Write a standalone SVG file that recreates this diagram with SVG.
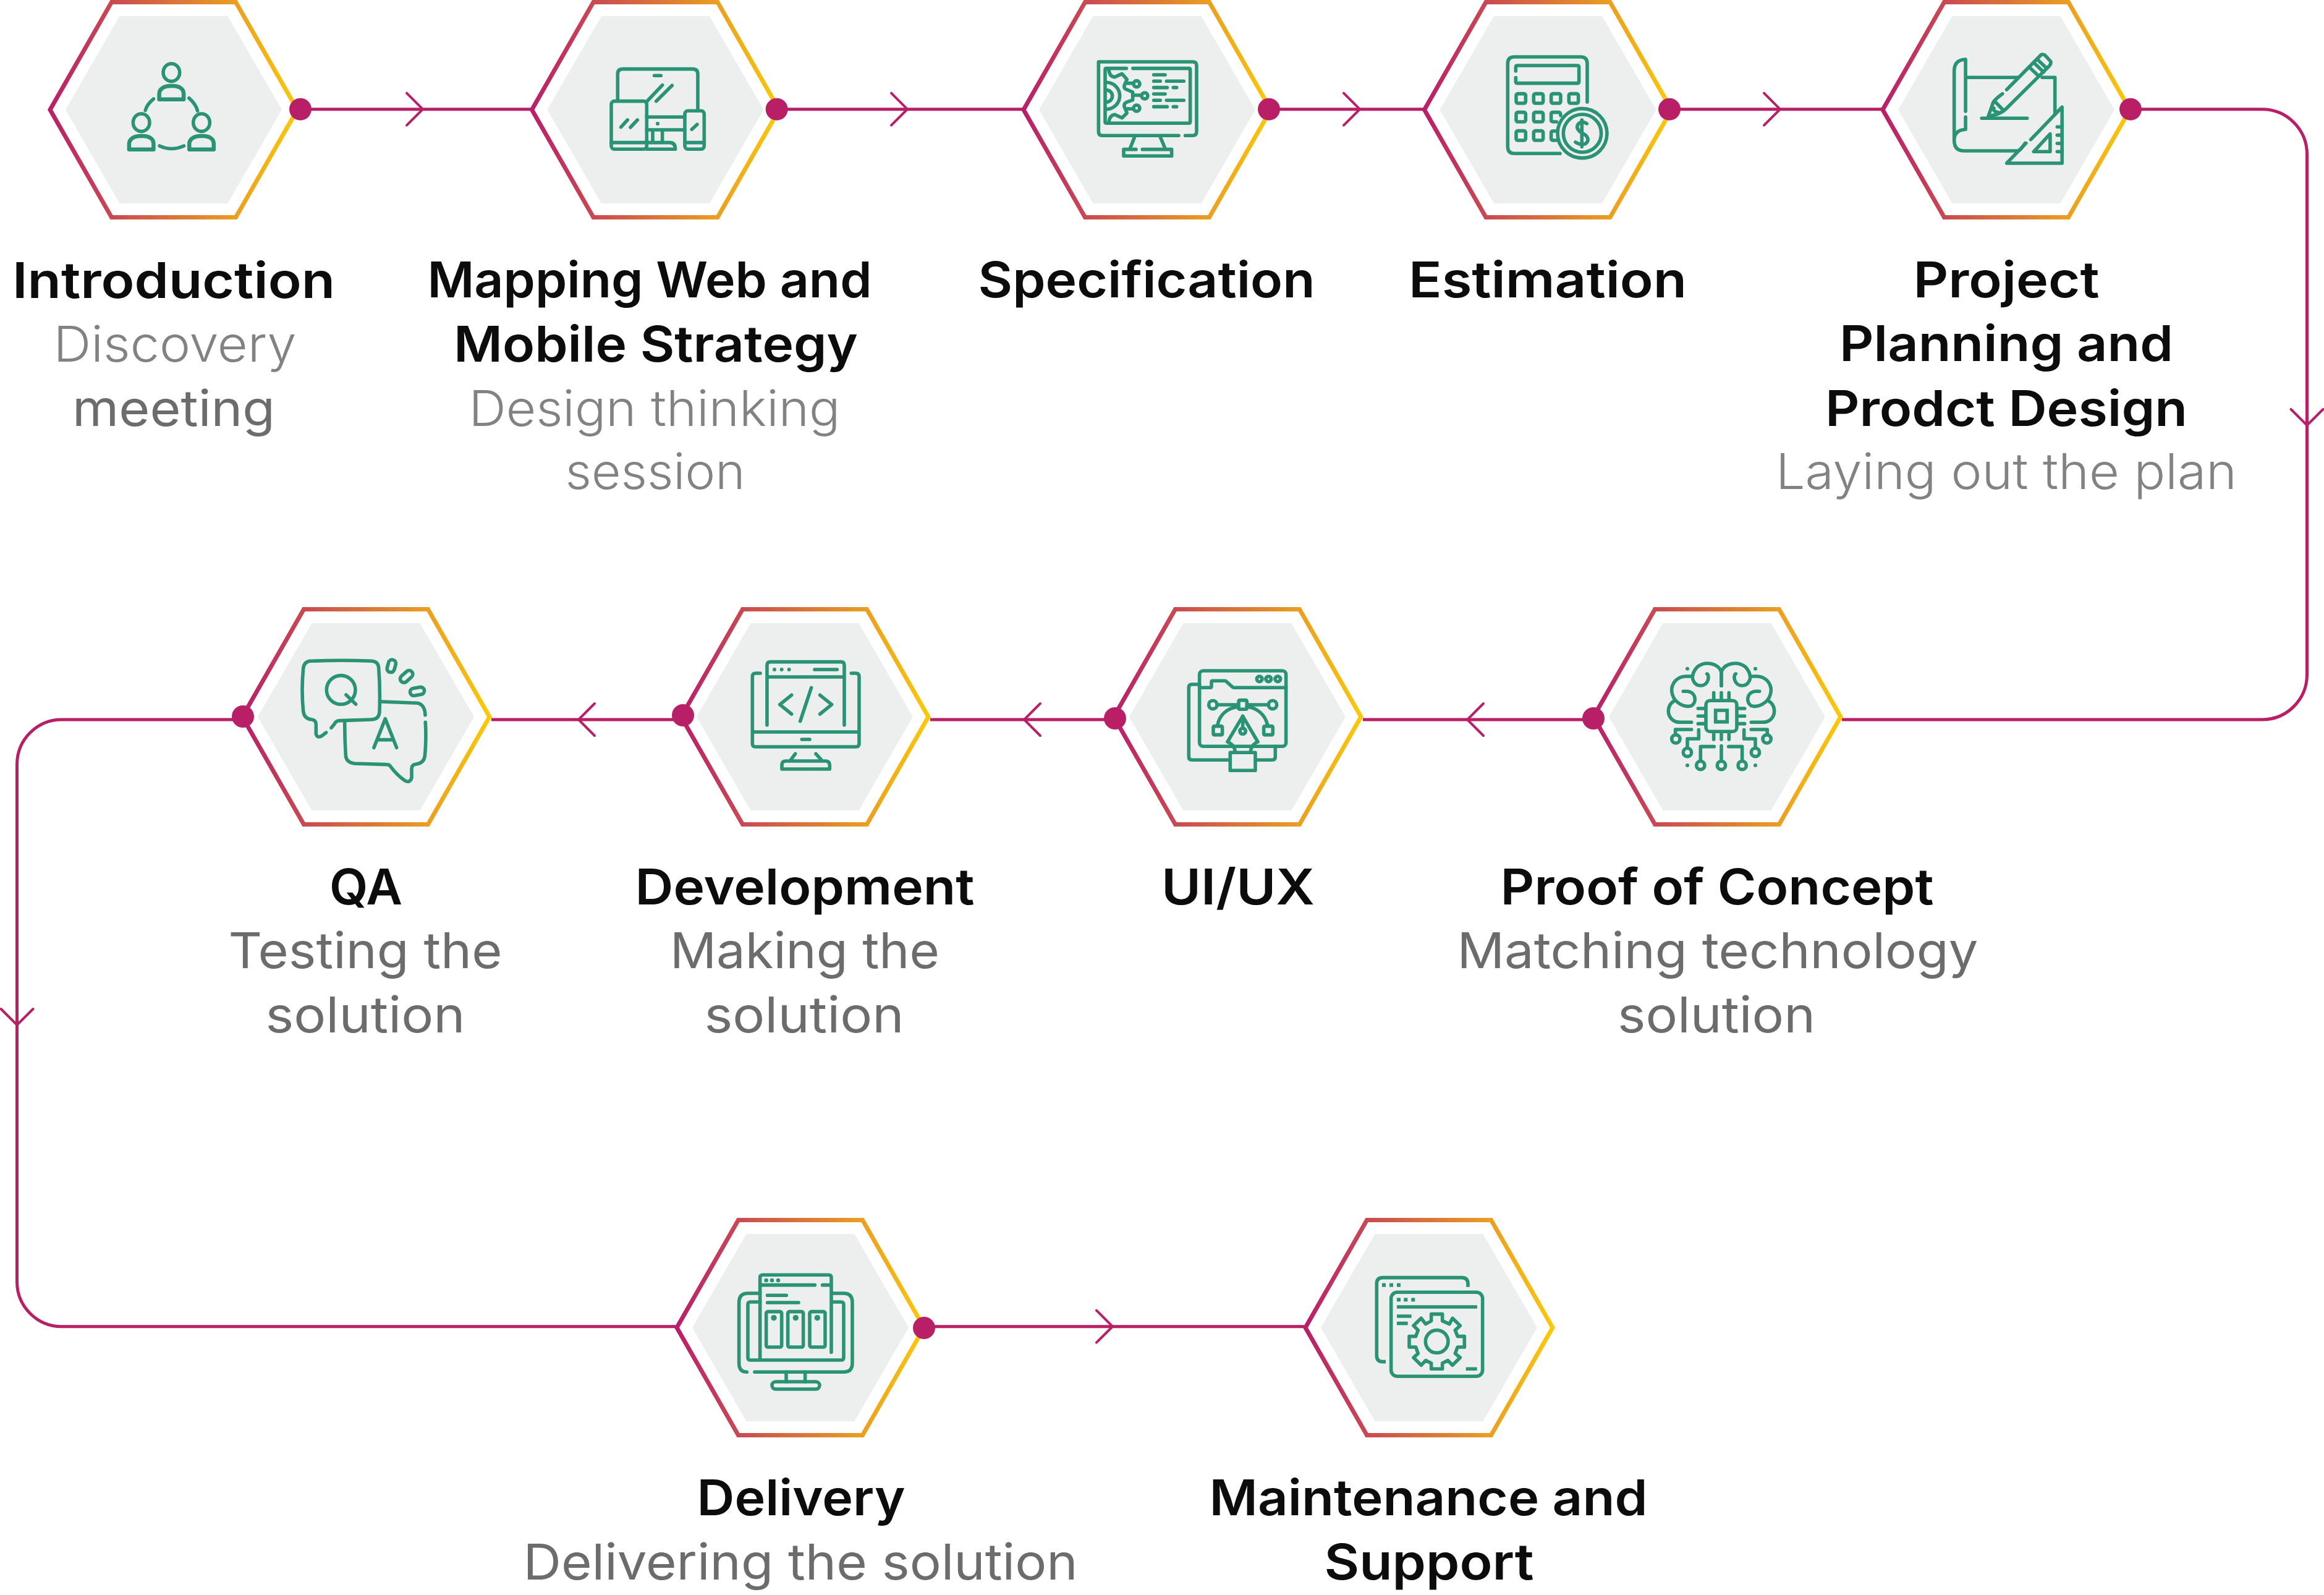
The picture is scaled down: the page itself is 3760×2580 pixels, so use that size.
<svg xmlns="http://www.w3.org/2000/svg" xmlns:xlink="http://www.w3.org/1999/xlink" width="3760" height="2580" viewBox="0 0 3760 2580">
<style>
.bg{fill:#fff}
.hexo{fill:#fff;stroke:url(#hg);stroke-width:7}
.hexi{fill:#ecefee}
.dot{fill:#b81f66}
.cn{fill:none;stroke:#b81f66;stroke-width:5}
.ch{fill:none;stroke:#b81f66;stroke-width:4;stroke-linecap:round}
.ic *{fill:none;stroke:#2a9375;stroke-width:5.6;stroke-linecap:round;stroke-linejoin:round;vector-effect:non-scaling-stroke}
.ic .f{fill:#2a9375;stroke:none}
.ic .sq{stroke-linecap:butt;stroke-linejoin:miter}
.bd{fill:none;stroke:#2a9375;stroke-width:6.5;stroke-linejoin:round;vector-effect:non-scaling-stroke}
text{font-family:"Inter","Noto Sans","Liberation Sans",sans-serif;font-size:80px;text-anchor:middle}
.t{font-weight:600;fill:#0c0c0c}
.s{font-weight:400;fill:#6c6c6c}
.l{font-weight:300;fill:#828282}
</style>
<defs>
<linearGradient id="hg" gradientUnits="objectBoundingBox" x1="0" y1="0" x2="1" y2="0">
<stop offset="0" stop-color="#b81f6a"/><stop offset="1" stop-color="#fbc90a"/>
</linearGradient>
<g id="hex">
<polygon class="hexo" points="-200,0 -100.5,-174 100.5,-174 200,0 100.5,174 -100.5,174"/>
<polygon class="hexi" points="-175,0 -87.5,-151.5 87.5,-151.5 175,0 87.5,151.5 -87.5,151.5"/>
</g>
<path id="chev" class="ch" d="M-26,-26 L0,0 L-26,26"/>
<path id="p1" class="bd" d="M561,482 V455 C561,430 580,417 600,417 H610 C630,417 647,430 647,455 V482 Z"/>
</defs>
<rect class="bg" width="3760" height="2580"/>
<g id="connectors">
<path class="cn" d="M486,176.7 H860"/>
<path class="cn" d="M1257,176.7 H1656"/>
<path class="cn" d="M2053,176.7 H2303"/>
<path class="cn" d="M2701,176.7 H3045"/>
<path class="cn" d="M3447,176.7 H3660 A72.5,73 0 0 1 3732.5,250 V1091 A72.5,73 0 0 1 3660,1164 H2980"/>
<path class="cn" d="M2578,1164 H2205"/>
<path class="cn" d="M1804,1164 H1505"/>
<path class="cn" d="M1105,1164 H795"/>
<path class="cn" d="M393,1164 H100 A72.5,72.5 0 0 0 27.5,1236 V2073 A72.5,72.5 0 0 0 100,2145.7 H1093"/>
<path class="cn" d="M1495,2145.7 H2110"/>
<use href="#chev" transform="translate(684,176.7)"/>
<use href="#chev" transform="translate(1468,176.7)"/>
<use href="#chev" transform="translate(2200,176.7)"/>
<use href="#chev" transform="translate(2880,176.7)"/>
<use href="#chev" transform="translate(3732.5,688) rotate(90)"/>
<use href="#chev" transform="translate(2374,1164) rotate(180)"/>
<use href="#chev" transform="translate(1657,1164) rotate(180)"/>
<use href="#chev" transform="translate(936,1164) rotate(180)"/>
<use href="#chev" transform="translate(27.5,1658) rotate(90)"/>
<use href="#chev" transform="translate(1800,2145.7)"/>
</g>

<g id="node-introduction">
<use href="#hex" transform="translate(281,177.5)"/>
<g class="ic" transform="scale(0.4592,0.3333)">
<ellipse cx="604" cy="352" rx="29" ry="43"/><use href="#p1"/>
<ellipse cx="498" cy="595" rx="29" ry="43"/><use href="#p1" transform="translate(-106,243)"/>
<ellipse cx="710" cy="595" rx="29" ry="43"/><use href="#p1" transform="translate(106,243)"/>
<path d="M541,480 Q518,505 512,536 M666,476 Q690,505 696,538 M562,708 Q604,735 648,708"/>
</g>
<circle class="dot" cx="486" cy="176.7" r="18"/>
<text class="t" x="281" y="482" textLength="522" lengthAdjust="spacingAndGlyphs">Introduction</text>
<text class="l" x="283" y="585" textLength="393" lengthAdjust="spacingAndGlyphs">Discovery</text>
<text class="s" x="281" y="689" textLength="328" lengthAdjust="spacingAndGlyphs">meeting</text>
</g>

<g id="node-mapping">
<use href="#hex" transform="translate(1060.5,177.5)"/>
<g class="ic" transform="translate(840,0) scale(0.3333)">
<path d="M478,483 V360 Q478,335 503,335 H842 Q867,335 867,360 V530 M656,367 H688 M620,492 L695,413 M665,491 L742,415"/>
<rect x="447" y="491" width="172" height="233" rx="15"/>
<path d="M447,692 H619 M494,617 L526,582 M540,618 L574,582 M619,568 H803 M619,630 H803 M648,630 V692 M695,630 V692 M619,692 H730 Q758,692 758,724 H619"/>
<circle class="f" cx="672" cy="600" r="9"/>
<rect x="804" y="538" width="94" height="186" rx="15"/>
<path d="M804,692 H898 M838,628 L864,604"/>
</g>
<circle class="dot" cx="1256.7" cy="176.7" r="18"/>
<text class="t" x="1051" y="481" textLength="719" lengthAdjust="spacingAndGlyphs">Mapping Web and</text>
<text class="t" x="1061" y="585" textLength="654" lengthAdjust="spacingAndGlyphs">Mobile Strategy</text>
<text class="l" x="1059" y="689" textLength="601" lengthAdjust="spacingAndGlyphs">Design thinking</text>
<text class="l" x="1060" y="791" textLength="291" lengthAdjust="spacingAndGlyphs">session</text>
</g>

<g id="node-specification">
<use href="#hex" transform="translate(1856,177.5)"/>
<g class="ic" transform="translate(1640,0) scale(0.3333)">
<path d="M801,658 H432 Q412,658 412,638 V300 H870 Q888,300 888,318 V638 Q888,658 868,658 H833"/>
<path d="M547,332 H450 Q444,332 444,340 V592 Q444,598 450,598 H850 Q857,598 857,592 V338 Q857,332 850,332 H579"/>
<path d="M450,400 A65,65 0 0 1 450,530 M450,437 A28,28 0 0 1 450,495"/>
<path d="M462,340 Q466,372 490,374 L526,358 L550,385 L540,408 Q530,430 550,435 L578,447 V485 L548,496 Q530,505 540,525 L550,548 L526,572 L490,556 Q466,560 462,592"/>
<path d="M545,404 H578 M578,462 H615 M548,528 H578"/>
<circle cx="597" cy="407" r="15"/><circle cx="636" cy="465" r="15"/><circle cx="597" cy="525" r="15"/>
<path d="M680,363 H735 M680,394 H712 M742,394 H826 M680,425 H745 M775,425 H791 M680,456 H735 M680,487 H712 M742,487 H826 M680,518 H745 M775,518 H791"/>
<path d="M587,665 L565,720 M712,665 L735,720 M594,725 H534 V757 H767 V725 H625"/>
</g>
<circle class="dot" cx="2053" cy="176.7" r="18"/>
<text class="t" x="1855" y="481" textLength="545" lengthAdjust="spacingAndGlyphs">Specification</text>
</g>

<g id="node-estimation">
<use href="#hex" transform="translate(2504.5,177.5)"/>
<g class="ic" transform="translate(2300,0) scale(0.3333)">
<path d="M804,495 V308 Q804,276 772,276 H450 Q418,276 418,308 V712 Q418,745 450,745 H672"/>
<path d="M457,345 V326 Q457,318 465,318 H756 Q764,318 764,326 V396 Q764,404 756,404 H465 Q457,404 457,396 V377"/>
<rect x="459" y="455" width="46" height="46" rx="8"/><rect x="544" y="455" width="46" height="46" rx="8"/><rect x="629" y="455" width="46" height="46" rx="8"/><rect x="715" y="455" width="46" height="46" rx="8"/>
<rect x="459" y="545" width="46" height="46" rx="8"/><rect x="544" y="545" width="46" height="46" rx="8"/>
<rect x="459" y="635" width="46" height="46" rx="8"/><rect x="544" y="635" width="46" height="46" rx="8"/>
<path d="M675,560 Q675,545 665,545 H640 Q629,545 629,553 V583 Q629,591 640,591 H655 M655,636 H640 Q629,636 629,644 V672 Q629,681 640,681 H655"/>
<circle cx="780" cy="647" r="120"/><circle cx="780" cy="647" r="92"/>
<path d="M802,600 Q780,585 762,600 Q745,620 770,640 L795,655 Q820,680 795,698 Q770,705 747,690 M778,582 V712"/>
</g>
<circle class="dot" cx="2701" cy="176.7" r="18"/>
<text class="t" x="2504" y="481" textLength="450" lengthAdjust="spacingAndGlyphs">Estimation</text>
</g>

<g id="node-planning">
<use href="#hex" transform="translate(3246,177.5)"/>
<g class="ic" transform="translate(3040,0) scale(0.4592,0.3333)">
<path d="M305,288 Q265,290 265,345 V680 Q265,732 300,732 H490 Q497,732 515,695 M305,288 V540 M305,568 V628 Q265,632 265,680 M305,376 H490 M575,376 H620 V555"/>
<path d="M450,435 L572,265 Q578,262 585,268 L605,298 Q607,310 600,320 L450,525 Q430,555 385,565 L403,495 Q410,480 435,455"/>
<path d="M535,333 L563,370 M550,310 L580,350 M563,295 L590,330 M410,495 L438,535 M405,525 Q400,540 420,545 M362,574 H522"/>
<path d="M535,677 L645,520 V792 H450 L518,695 M545,736 L603,650 V736 Z M628,616 H645 M628,656 H645 M628,696 H645 M628,736 H645"/>
</g>
<circle class="dot" cx="3447" cy="176.7" r="18"/>
<text class="t" x="3246" y="481" textLength="301" lengthAdjust="spacingAndGlyphs">Project</text>
<text class="t" x="3246" y="584" textLength="540" lengthAdjust="spacingAndGlyphs">Planning and</text>
<text class="t" x="3246" y="689" textLength="586" lengthAdjust="spacingAndGlyphs">Prodct Design</text>
<text class="l" x="3246" y="791" textLength="746" lengthAdjust="spacingAndGlyphs">Laying out the plan</text>
</g>

<g id="node-poc">
<use href="#hex" transform="translate(2778,1159.5)"/>
<g class="ic" transform="translate(2560,980) scale(0.3333)">
<g id="brain-left">
<path d="M675,388 V320 C660,280 600,265 560,295 C535,320 530,350 540,365 C555,395 600,395 610,360 C615,345 610,330 605,330"/>
<path d="M530,342 H500 C450,345 425,390 437,430 C450,475 500,495 530,485 C555,470 555,420 510,415 H490"/>
<path d="M445,462 C415,480 410,520 430,545 C445,565 465,565 480,565 H530"/>
<path d="M530,600 H452 V625 M565,602 V645 H510 V685 M640,683 H574 V750"/>
<circle cx="454" cy="646" r="20"/><circle cx="510" cy="711" r="20"/><circle cx="574" cy="774" r="20"/>
<circle class="f" cx="510" cy="305" r="9"/><circle class="f" cx="510" cy="774" r="9"/>
</g>
<g id="brain-right" transform="translate(1350,0) scale(-1,1)">
<path d="M675,388 V320 C660,280 600,265 560,295 C535,320 530,350 540,365 C555,395 600,395 610,360 C615,345 610,330 605,330"/>
<path d="M530,342 H500 C450,345 425,390 437,430 C450,475 500,495 530,485 C555,470 555,420 510,415 H490"/>
<path d="M445,462 C415,480 410,520 430,545 C445,565 465,565 480,565 H530"/>
<path d="M530,600 H452 V625 M565,602 V645 H510 V685 M640,683 H574 V750"/>
<circle cx="454" cy="646" r="20"/><circle cx="510" cy="711" r="20"/><circle cx="574" cy="774" r="20"/>
<circle class="f" cx="510" cy="305" r="9"/><circle class="f" cx="510" cy="774" r="9"/>
</g>
<rect x="600" y="460" width="150" height="150" rx="20"/>
<rect class="sq" x="647" y="507" width="56" height="56"/>
<path d="M638,450 V422 M675,450 V422 M712,450 V422 M638,620 V648 M675,620 V648 M712,620 V648 M590,498 H562 M590,535 H562 M590,572 H562 M760,498 H788 M760,535 H788 M760,572 H788 M675,680 V750"/>
<circle cx="675" cy="774" r="20"/>
</g>
<circle class="dot" cx="2578" cy="1162" r="18"/>
<text class="t" x="2778" y="1463" textLength="701" lengthAdjust="spacingAndGlyphs">Proof of Concept</text>
<text class="s" x="2779" y="1566" textLength="843" lengthAdjust="spacingAndGlyphs">Matching technology</text>
<text class="s" x="2777" y="1670" textLength="320" lengthAdjust="spacingAndGlyphs">solution</text>
</g>

<g id="node-uiux">
<use href="#hex" transform="translate(2002,1159.5)"/>
<g class="ic" transform="translate(1800,980) scale(0.3333)">
<rect x="422" y="315" width="420" height="367" rx="18"/>
<path d="M422,397 H474 Q480,397 480,390 V370 Q480,364 486,364 H545 Q550,364 553,368 L580,392 Q585,397 590,397 H842"/>
<circle cx="713" cy="355" r="13"/><circle cx="757" cy="355" r="13"/><circle cx="802" cy="355" r="13"/>
<path d="M422,381 H385 Q370,381 370,396 V732 Q370,748 385,748 H570 M694,748 H775 Q790,748 790,732 V682"/>
<path d="M632,535 L558,660 Q595,675 595,712 M632,535 L705,660 Q670,675 670,712 M632,535 V590"/>
<rect x="571" y="712" width="122" height="87"/>
<circle cx="632" cy="608" r="14"/>
<path d="M510,480 H610 M655,480 H755 M510,576 C520,530 555,495 612,490 M752,576 C740,530 705,495 652,490"/>
<circle cx="487" cy="480" r="20"/><circle cx="777" cy="480" r="20"/>
<rect x="612" y="458" width="40" height="44" rx="5"/>
<rect x="489" y="584" width="44" height="42" rx="5"/><rect x="734" y="584" width="44" height="42" rx="5"/>
</g>
<circle class="dot" cx="1804" cy="1162" r="18"/>
<text class="t" x="2003" y="1463" textLength="248" lengthAdjust="spacingAndGlyphs">UI/UX</text>
</g>

<g id="node-development">
<use href="#hex" transform="translate(1302,1159.5)"/>
<g class="ic" transform="translate(1100,980) scale(0.3333)">
<path d="M423,578 V288 Q423,272 440,272 H782 Q798,272 798,288 V578 M423,345 H798 M654,309 H763"/>
<circle class="f" cx="459" cy="309" r="9"/><circle class="f" cx="494" cy="309" r="9"/><circle class="f" cx="530" cy="309" r="9"/>
<path d="M390,327 H368 Q352,327 352,343 V668 Q352,684 368,684 H853 Q870,684 870,668 V343 Q870,327 853,327 H832 M352,612 H870 M592,648 H630"/>
<path d="M542,433 L485,479 L542,525 M680,433 L737,479 L680,525 M638,397 L584,560"/>
<path d="M560,718 L540,745 M660,718 L685,745 M495,792 V772 Q495,753 515,753 H705 Q727,753 727,772 V792 Z"/>
</g>
<circle class="dot" cx="1105" cy="1157" r="18"/>
<text class="t" x="1302" y="1463" textLength="549" lengthAdjust="spacingAndGlyphs">Development</text>
<text class="s" x="1302" y="1566" textLength="436" lengthAdjust="spacingAndGlyphs">Making the</text>
<text class="s" x="1301" y="1670" textLength="323" lengthAdjust="spacingAndGlyphs">solution</text>
</g>

<g id="node-qa">
<use href="#hex" transform="translate(592,1159.5)"/>
<g class="ic" transform="translate(380,980) scale(0.3333)">
<path d="M468,592 L482,575 Q490,557 510,557 L660,552 Q700,552 702,515 Q706,400 698,300 Q695,270 665,268 Q520,262 365,268 Q335,272 332,305 Q322,410 332,510 Q336,550 375,552 Q393,555 394,575 V620 Q398,643 420,632 L443,615"/>
<circle cx="515" cy="408" r="70"/>
<path d="M540,432 L587,477"/>
<path d="M714,465 L885,472 Q922,478 924,530 M925,565 Q930,650 922,730 Q916,765 880,768 Q858,770 858,790 V835 Q850,862 825,848 Q785,820 752,775 Q748,770 735,770 L580,765 Q540,760 538,725 Q533,640 533,560"/>
<path d="M675,688 L730,548 L785,688 M693,650 H768"/>
<rect x="742" y="261" width="36" height="62" rx="18" transform="rotate(15 760 292)"/>
<rect x="815" y="308" width="36" height="70" rx="18" transform="rotate(48 833 343)"/>
<rect x="867" y="380" width="36" height="70" rx="18" transform="rotate(80 885 415)"/>
</g>
<circle class="dot" cx="393" cy="1159" r="18"/>
<text class="t" x="592" y="1463" textLength="118" lengthAdjust="spacingAndGlyphs">QA</text>
<text class="s" x="591" y="1566" textLength="443" lengthAdjust="spacingAndGlyphs">Testing the</text>
<text class="s" x="591" y="1670" textLength="323" lengthAdjust="spacingAndGlyphs">solution</text>
</g>

<g id="node-delivery">
<use href="#hex" transform="translate(1295,2147.5)"/>
<g class="ic" transform="translate(1090,1960) scale(0.3333)">
<path d="M419,718 V320 Q419,307 432,307 H752 Q765,307 765,320 V682 M419,356 H685 M722,356 H765 M455,406 H547 M455,441 H606"/>
<circle class="f" cx="449" cy="333" r="10"/><circle class="f" cx="477" cy="333" r="10"/><circle class="f" cx="507" cy="333" r="10"/>
<rect x="449" y="485" width="75" height="172" rx="8"/><rect x="554" y="485" width="75" height="172" rx="8"/><rect x="660" y="485" width="75" height="172" rx="8"/>
<circle class="f" cx="486" cy="515" r="14"/><circle class="f" cx="592" cy="515" r="14"/><circle class="f" cx="697" cy="515" r="14"/>
<path d="M419,396 H360 Q317,396 317,440 V735 Q317,778 355,778 M393,778 H825 Q867,778 867,735 V440 Q867,396 825,396 H765"/>
<path d="M419,438 H372 Q360,438 360,450 V708 Q360,720 372,720 H812 Q825,720 825,708 V450 Q825,438 812,438 H765"/>
<path d="M546,778 V825 M638,778 V825"/>
<rect x="477" y="825" width="231" height="36" rx="18"/>
</g>
<circle class="dot" cx="1495" cy="2148" r="18"/>
<text class="t" x="1296" y="2451" textLength="337" lengthAdjust="spacingAndGlyphs">Delivery</text>
<text class="s" x="1295" y="2555" textLength="897" lengthAdjust="spacingAndGlyphs">Delivering the solution</text>
</g>

<g id="node-maintenance">
<use href="#hex" transform="translate(2312,2147.5)"/>
<g class="ic" transform="translate(2100,1960) scale(0.3333)">
<path class="sq" d="M825,365 V350 Q825,320 795,320 H412 Q382,320 382,350 V698 Q382,728 412,728 H426"/>
<rect class="f" x="408" y="347" width="18" height="18"/><rect class="f" x="444" y="347" width="18" height="18"/><rect class="f" x="480" y="347" width="18" height="18"/>
<rect x="452" y="391" width="444" height="408" rx="30"/>
<rect class="f" x="480" y="418" width="18" height="18"/><rect class="f" x="514" y="418" width="18" height="18"/><rect class="f" x="550" y="418" width="18" height="18"/>
<path class="sq" d="M480,462 H870 M480,507 H551 M480,542 H533 M815,763 H869"/>
<path d="M647,497 H701 V530 L735,545 L750,517 L787,553 L763,575 L775,605 H808 V657 H775 L763,688 L787,708 L750,745 L728,722 L701,735 V763 H647 V735 L620,722 L598,745 L561,708 L583,688 L572,657 H540 V605 H572 L583,575 L561,553 L598,517 L620,545 L647,530 Z"/>
<circle cx="674" cy="630" r="55"/>
</g>
<text class="t" x="2311" y="2451" textLength="709" lengthAdjust="spacingAndGlyphs">Maintenance and</text>
<text class="t" x="2312" y="2555" textLength="339" lengthAdjust="spacingAndGlyphs">Support</text>
</g>
</svg>
